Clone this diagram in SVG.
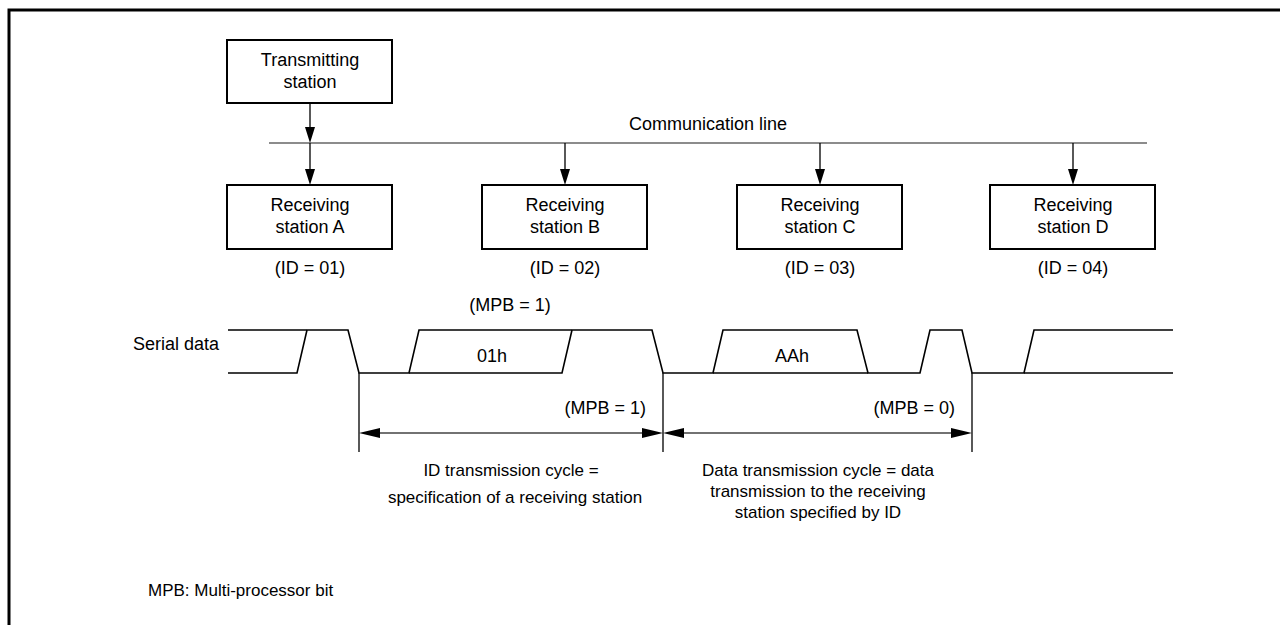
<svg xmlns="http://www.w3.org/2000/svg" width="1280" height="625" viewBox="0 0 1280 625">
<style>
.t{font-family:"Liberation Sans",Arial,sans-serif;font-size:18px;fill:#000;text-anchor:middle}
.n{font-family:"Liberation Sans Narrow","Liberation Sans",Arial,sans-serif;font-size:17px;fill:#000;text-anchor:middle}
.box{fill:#fff;stroke:#000;stroke-width:2}
.wire{fill:none;stroke:#000;stroke-width:1.6}
.dim{fill:none;stroke:#000;stroke-width:1.3}
.dl{fill:none;stroke:#444;stroke-width:1.3}
.ar{fill:#000}
</style>
<rect width="1280" height="625" fill="#fff"/>
<path d="M9,625 V10 H1280" fill="none" stroke="#000" stroke-width="3"/>

<g id="tx">
<rect class="box" x="227" y="40" width="165" height="63"/>
<text class="t" x="310" y="66">Transmitting</text>
<text class="t" x="310" y="88">station</text>
</g>
<g id="rxA">
<rect class="box" x="227" y="185" width="165" height="64"/>
<text class="t" x="310" y="211">Receiving</text>
<text class="t" x="310" y="233">station A</text>
<text class="t" x="310" y="274">(ID = 01)</text>
</g>
<g id="rxB">
<rect class="box" x="482" y="185" width="165" height="64"/>
<text class="t" x="565" y="211">Receiving</text>
<text class="t" x="565" y="233">station B</text>
<text class="t" x="565" y="274">(ID = 02)</text>
</g>
<g id="rxC">
<rect class="box" x="737" y="185" width="165" height="64"/>
<text class="t" x="820" y="211">Receiving</text>
<text class="t" x="820" y="233">station C</text>
<text class="t" x="820" y="274">(ID = 03)</text>
</g>
<g id="rxD">
<rect class="box" x="990" y="185" width="165" height="64"/>
<text class="t" x="1073" y="211">Receiving</text>
<text class="t" x="1073" y="233">station D</text>
<text class="t" x="1073" y="274">(ID = 04)</text>
</g>

<g id="connectors">
<line x1="269" y1="143" x2="1147" y2="143" stroke="#666" stroke-width="1.5"/>
<text class="t" x="708" y="130">Communication line</text>
<path class="dim" d="M310,103 V130 M310,143 V172 M565,143 V172 M820,143 V172 M1073,143 V172"/>
<path class="ar" d="M305,127 H315 L310,143 Z M305,169 H315 L310,185 Z M560,169 H570 L565,185 Z M815,169 H825 L820,185 Z M1068,169 H1078 L1073,185 Z"/>
</g>

<g id="serial">
<text class="t" x="133" y="350" style="text-anchor:start">Serial data</text>
<text class="t" x="510" y="311">(MPB = 1)</text>
<path class="wire" d="M228,330 H348 L359,373 H409 L419,330 H652 L663,373 H713 L723,330 H857 L868,373 H920 L930,330 H962 L972,373 H1024 L1034,330 H1173"/>
<path class="wire" d="M228,373 H297 L307,330 M409,373 H562 L572,330 M713,373 H868 M1024,373 H1173"/>
<text class="t" x="492" y="362">01h</text>
<text class="t" x="792" y="362">AAh</text>
<text class="t" x="646" y="414" style="text-anchor:end">(MPB = 1)</text>
<text class="t" x="955" y="414" style="text-anchor:end">(MPB = 0)</text>
</g>

<g id="dimensions">
<path class="dim" d="M359,373 V452 M663,373 V452 M972,373 V452"/>
<path class="dl" d="M370,433 H652 M674,433 H961"/>
<path class="ar" d="M359,433 L380,428 V438 Z M663,433 L642,428 V438 Z M663,433 L684,428 V438 Z M972,433 L951,428 V438 Z"/>
<text class="n" x="511" y="476">ID transmission cycle =</text>
<text class="n" x="515" y="503">specification of a receiving station</text>
<text class="n" x="818" y="476">Data transmission cycle = data</text>
<text class="n" x="818" y="497">transmission to the receiving</text>
<text class="n" x="818" y="518">station specified by ID</text>
</g>
<text class="n" x="148" y="596" style="text-anchor:start">MPB: Multi-processor bit</text>
</svg>
